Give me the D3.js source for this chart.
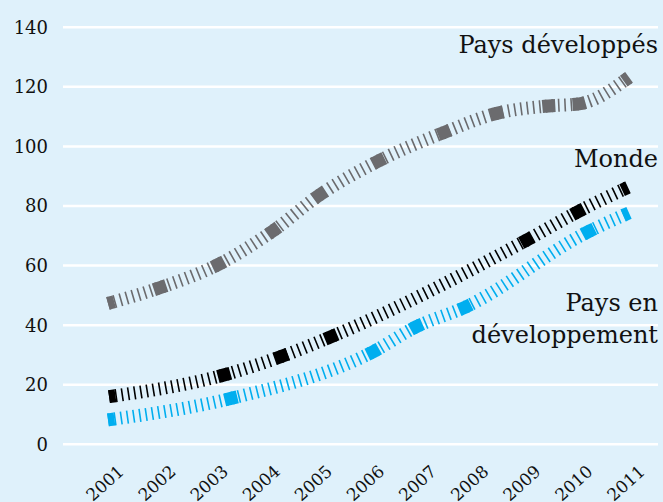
<!DOCTYPE html>
<html>
<head>
<meta charset="utf-8">
<script src="https://cdn.jsdelivr.net/npm/d3@7.9.0/dist/d3.min.js"></script>
<style>
  html, body { margin: 0; padding: 0; background: #dff1fb; }
  svg { display: block; }
  text { font-family: "DejaVu Serif", serif; fill: #111; }
</style>
</head>
<body>
<svg id="chart" width="663" height="502"></svg>
<script>
// tick labels
const years = [2001, 2002, 2003, 2004, 2005, 2006, 2007, 2008, 2009, 2010, 2011];
const yTicks = [0, 20, 40, 60, 80, 100, 120, 140];

// points on each curve (x as fractional year)
const developedX = [2001.0, 2002.0, 2003.12, 2004.17, 2005.06, 2006.19, 2007.45, 2008.46, 2009.46, 2010.04, 2011.0];
const developedY = [47.3, 52.6, 60.4, 71.7, 83.7, 95.1, 104.7, 111.1, 113.6, 114.3, 123.2];

const worldX = [2001.02, 2003.23, 2004.33, 2005.28, 2009.04, 2010.02, 2010.98];
const worldY = [16.0, 23.3, 29.5, 36.1, 68.6, 78.1, 86.3];

const developingX = [2001.0, 2003.36, 2006.09, 2006.92, 2007.85, 2010.22, 2011.0];
const developingY = [8.2, 15.4, 31.1, 39.5, 46.0, 71.4, 77.7];

const series = [
  { name: 'developed', xs: developedX, ys: developedY, color: '#6b6b6e' },
  { name: 'world', xs: worldX, ys: worldY, color: '#000000' },
  { name: 'developing', xs: developingX, ys: developingY, color: '#00aeef' },
];

const svg = d3.select('#chart');

const x = d3.scaleLinear().domain([2001, 2011]).range([108, 629]);
const y = d3.scaleLinear().domain([0, 140]).range([444.3, 27.3]);

// gridlines
svg.append('g')
  .selectAll('line')
  .data(yTicks)
  .join('line')
  .attr('x1', 63)
  .attr('x2', 658)
  .attr('y1', d => y(d))
  .attr('y2', d => y(d))
  .attr('stroke', '#fff')
  .attr('stroke-width', 2.5);

// y axis labels
svg.append('g')
  .selectAll('text')
  .data(yTicks)
  .join('text')
  .attr('x', 48)
  .attr('y', d => y(d))
  .attr('dy', '0.36em')
  .attr('text-anchor', 'end')
  .style('font-size', '18px')
  .text(d => d);

// x axis labels, rotated
svg.append('g')
  .selectAll('text')
  .data(years)
  .join('text')
  .attr('transform', d => `translate(${x(d) + 17},473) rotate(-42)`)
  .attr('text-anchor', 'end')
  .style('font-size', '17px')
  .text(d => d);

const line = d3.line()
  .x(d => x(d[0]))
  .y(d => y(d[1]))
  .curve(d3.curveMonotoneX);

function lengthAtX(node, targetX, total) {
  let lo = 0, hi = total;
  for (let i = 0; i < 40; i++) {
    const mid = (lo + hi) / 2;
    if (node.getPointAtLength(mid).x < targetX) lo = mid; else hi = mid;
  }
  return (lo + hi) / 2;
}

series.forEach(s => {
  const pts = s.xs.map((v, i) => [v, s.ys[i]]);
  const g = svg.append('g');

  // hatched ribbon
  const hatch = g.append('path')
    .datum(pts)
    .attr('d', line)
    .attr('fill', 'none')
    .attr('stroke', s.color)
    .attr('stroke-width', 13)
    .attr('stroke-dasharray', '1.6,4.7');

  // solid blocks at each point, drawn as dashes of the same path
  const node = hatch.node();
  const total = node.getTotalLength();
  const half = 6.5;
  const dash = [0];
  let pos = 0;
  pts.forEach(p => {
    const L = lengthAtX(node, x(p[0]), total);
    const a = Math.max(pos, L - half);
    const b = Math.min(total, L + half);
    dash.push(a - pos, b - a);
    pos = b;
  });
  dash.push(total + 20);

  g.append('path')
    .datum(pts)
    .attr('d', line)
    .attr('fill', 'none')
    .attr('stroke', s.color)
    .attr('stroke-width', 13)
    .attr('stroke-dasharray', dash.join(','));
});

// series labels
const labels = [
  { text: 'Pays développés', y: 53 },
  { text: 'Monde', y: 167 },
  { text: 'Pays en', y: 311 },
  { text: 'développement', y: 343 },
];
svg.append('g')
  .selectAll('text')
  .data(labels)
  .join('text')
  .attr('x', 658)
  .attr('y', d => d.y)
  .attr('text-anchor', 'end')
  .style('font-size', '24px')
  .text(d => d.text);
</script>
</body>
</html>
